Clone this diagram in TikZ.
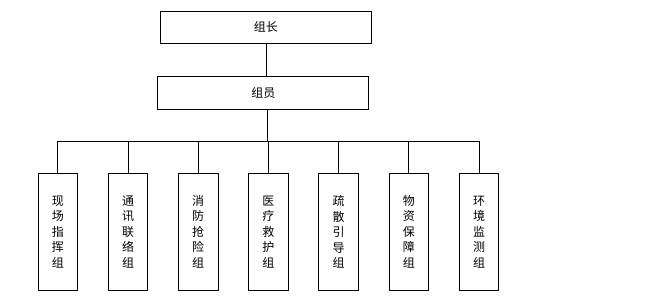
\documentclass[tikz,border=0pt]{standalone}
\usepackage{fontspec}
\newfontfamily\cjk{Noto Sans CJK SC}
\usetikzlibrary{positioning}

\tikzset{
  orgbox/.style={draw,line width=.8pt,minimum width=211pt,minimum height=32.5pt,
    font=\cjk\fontsize{12}{14}\selectfont},
  teambox/.style={draw,line width=.8pt,minimum width=39.7pt,minimum height=117pt,
    align=center,inner sep=0pt,font=\cjk\fontsize{12}{15.5}\selectfont},
  link/.style={line width=.8pt}
}

\begin{document}
\begin{tikzpicture}[x=1pt,y=-1pt]
        \useasboundingbox (0,0) rectangle (650,299);

        \node[orgbox] (leader) at (265.9,27.3) {组长};
        \node[orgbox] (member) at (263.3,92.8) {组员};
        \coordinate (bus) at (267.3,141.3);

        % seven teams
        \foreach \i/\txt in {1/现\\场\\指\\挥\\组,2/通\\讯\\联\\络\\组,3/消\\防\\抢\\险\\组,
            4/医\\疗\\救\\护\\组,5/疏\\散\\引\\导\\组,6/物\\资\\保\\障\\组,7/环\\境\\监\\测\\组}
          \node[teambox] (team\i) at ({57.8+70.2*(\i-1)},231.8) {\txt};

        \draw[link] (leader.south) -- (leader.south |- member.north);
        \draw[link] (member.south -| bus) -- (bus);
        \draw[link] (team1.north) |- (bus) -| (team7.north);
        \foreach \i in {2,...,6}
          \draw[link] (team\i.north) -- (team\i.north |- bus);
      \end{tikzpicture}
\end{document}
